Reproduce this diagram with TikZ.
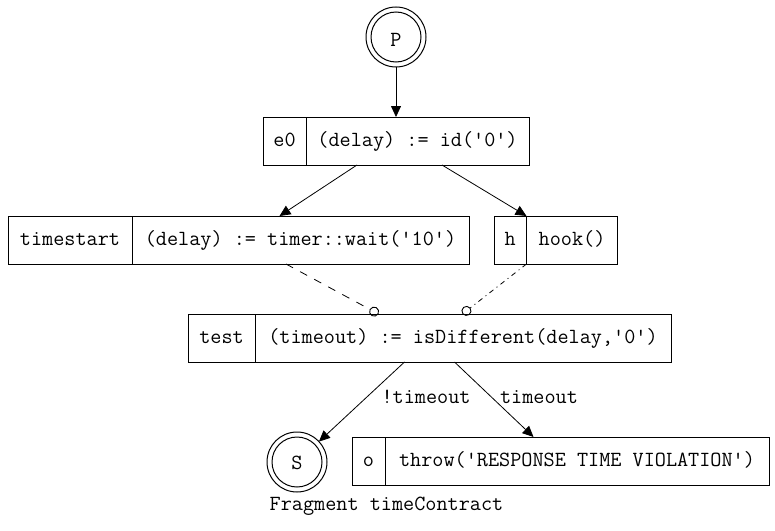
\documentclass[tikz,border=0pt]{standalone}
\usetikzlibrary{arrows.meta}
\tikzset{
  box/.style={draw, line width=1pt, rectangle, inner sep=0pt, outer sep=0pt, minimum height=48pt},
  txt/.style={inner sep=0pt, anchor=base, font=\ttfamily\fontsize{21.6}{24}\selectfont},
  state/.style={draw, line width=1pt, circle, inner sep=0pt, outer sep=0pt, minimum size=60pt},
  arr/.style={line width=0.8pt, -{Triangle[length=11pt,width=10pt]}},
  odot/.style={line width=0.8pt, -{Circle[open,length=10pt,width=10pt,line width=0.9pt]}},
  divider/.style={line width=1pt}
}
\begin{document}
\begin{tikzpicture}[x=1pt,y=-1pt]
\useasboundingbox (0,0) rectangle (775,530);
% start state
\node[state] (P) at (396,37) {};
\draw[line width=1pt] (P.center) circle (25pt);
\node[txt] (Pt) at (396,46.5) {P};
% e0
\node[box, minimum width=266pt] (e0) at (396,141) {};
\draw[divider] (306,117) -- (306,165);
\node[txt] (e0k) at (284.5,146.7) {e0};
\node[txt] (e0v) at (417.5,146.7) {(delay) := id('0')};
% timestart
\node[box, minimum width=461pt] (ts) at (238.5,240) {};
\draw[divider] (132,216) -- (132,264);
\node[txt] (tsk) at (70,245.7) {timestart};
\node[txt] (tsv) at (300.5,245.7) {(delay) := timer::wait('10')};
% h
\node[box, minimum width=123pt] (h) at (555.5,240) {};
\draw[divider] (526.5,216) -- (526.5,264);
\node[txt] (hk) at (510.25,245.7) {h};
\node[txt] (hv) at (572,245.7) {hook()};
% test
\node[box, minimum width=483pt] (test) at (429.5,338) {};
\draw[divider] (255,314) -- (255,362);
\node[txt] (testk) at (221.5,343.7) {test};
\node[txt] (testv) at (463,343.7) {(timeout) := isDifferent(delay,'0')};
% S
\node[state] (S) at (297,462) {};
\draw[line width=1pt] (S.center) circle (25pt);
\node[txt] (St) at (297,469) {S};
% o
\node[box, minimum width=417pt] (o) at (560.5,461) {};
\draw[divider] (385,437) -- (385,485);
\node[txt] (ok) at (368.5,466.7) {o};
\node[txt] (ov) at (577,466.7) {throw('RESPONSE TIME VIOLATION')};
% caption
\node[txt] (cap) at (386.5,510) {Fragment timeContract};
% edges
\draw[arr] (P) -- (e0);
\draw[arr] ([xshift=-39pt]e0.south) -- ([xshift=41pt]ts.north);
\draw[arr] ([xshift=46pt]e0.south) -- ([xshift=-29pt]h.north);
\draw[odot, dash pattern=on 8pt off 8pt] ([xshift=47.5pt]ts.south) -- ([xshift=-51pt]test.north);
\draw[odot, dash pattern=on 5pt off 4pt on 1pt off 4pt] ([xshift=-29pt]h.south) -- ([xshift=33pt]test.north);
\draw[arr] ([xshift=-25pt]test.south) -- (S);
\draw[arr] ([xshift=25pt]test.south) -- ([xshift=-27pt]o.north);
\node[txt] (lnt) at (426,403.3) {!timeout};
\node[txt] (lt) at (539,403.3) {timeout};
\end{tikzpicture}
\end{document}
